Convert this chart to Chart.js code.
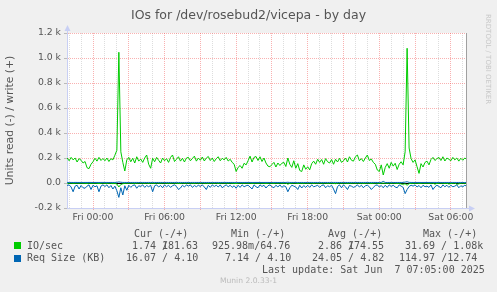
<!DOCTYPE html>
<html lang="en">
<head>
<meta charset="UTF-8">
<title>IOs for /dev/rosebud2/vicepa - by day</title>
<script src="https://cdn.jsdelivr.net/npm/chart.js"></script>
<style>
  body { margin: 0; background: #f0f0f0; }
  #wrap { position: relative; width: 497px; height: 292px; overflow: hidden; }
  canvas { position: absolute; left: 0; top: 0; }
  #title { position: absolute; left: 0; width: 497px; top: 7px; text-align: center; font: 12.5px/15px "DejaVu Sans", sans-serif; color: #555; }
  .mono { position: absolute; font-family: "DejaVu Sans Mono", monospace; font-size: 10px; line-height: 12px; color: #555; white-space: pre; }
  .sq { position: absolute; left: 14px; width: 7px; height: 7px; }
  #rrd { position: absolute; left: 484px; top: 14px; writing-mode: vertical-rl; font: 7px "DejaVu Sans", sans-serif; color: #c8c8c8; white-space: nowrap; }
  #munin { position: absolute; left: 0; width: 497px; top: 276px; text-align: center; font: 7.6px "DejaVu Sans", sans-serif; color: #bbb; }
</style>
</head>
<body>
<div id="wrap">
  <canvas id="chart" width="497" height="292"></canvas>
  <div id="title">IOs for /dev/rosebud2/vicepa - by day</div>
  <div id="rrd">RRDTOOL / TOBI OETIKER</div>

  <div class="mono" style="left:134px;top:227.5px">Cur (-/+)</div>
  <div class="mono" style="left:231px;top:227.5px">Min (-/+)</div>
  <div class="mono" style="left:328px;top:227.5px">Avg (-/+)</div>
  <div class="mono" style="left:423px;top:227.5px">Max (-/+)</div>

  <div class="sq" style="top:242px;background:#00cc00"></div>
  <div class="mono" style="left:27px;top:239.5px">IO/sec</div>
  <div class="mono" style="left:132px;top:239.5px">1.74 /</div>
  <div class="mono" style="left:162px;top:239.5px">181.63</div>
  <div class="mono" style="left:212px;top:239.5px">925.98m/64.76</div>
  <div class="mono" style="left:318px;top:239.5px">2.86 /</div>
  <div class="mono" style="left:348px;top:239.5px">174.55</div>
  <div class="mono" style="left:405px;top:239.5px">31.69 / 1.08k</div>

  <div class="sq" style="top:255px;background:#0066b3"></div>
  <div class="mono" style="left:27px;top:251.5px">Req Size (KB)</div>
  <div class="mono" style="left:126px;top:251.5px">16.07 / 4.10</div>
  <div class="mono" style="left:225px;top:251.5px">7.14 / 4.10</div>
  <div class="mono" style="left:312px;top:251.5px">24.05 / 4.82</div>
  <div class="mono" style="left:399px;top:251.5px">114.97 /12.74</div>

  <div class="mono" style="left:262px;top:263.5px">Last update: Sat Jun  7 07:05:00 2025</div>
  <div id="munin">Munin 2.0.33-1</div>
</div>

<script>
// samples every 10 minutes, first one Thu 21:50 (hours relative to Fri 00:00)
const START_HOUR = -13 / 6;
const STEP_HOUR = 1 / 6;

const tickHours = [0, 6, 12, 18, 24, 30];
const tickLabels = ['Fri 00:00', 'Fri 06:00', 'Fri 12:00', 'Fri 18:00', 'Sat 00:00', 'Sat 06:00'];

// IO/sec write (+)
const ioWrite = [200,
  178,205,185,200,168,195,   // -2
  182,160,172,122,115,150,   // -1
  170,198,175,205,180,196,   // 0
  178,200,172,195,185,222,   // 1
  262,1046,250,165,96,185,   // 2
  205,170,198,160,210,175,   // 3
  192,165,200,224,150,118,   // 4
  198,170,205,182,160,200,   // 5
  178,195,165,205,224,172,   // 6
  190,210,175,198,168,200,   // 7
  205,178,196,215,175,200,   // 8
  182,208,176,200,212,180,   // 9
  200,172,195,210,178,198,   // 10
  185,205,176,190,165,150,   // 11
  92,125,140,118,158,145,    // 12
  178,215,168,205,212,180,   // 13
  210,172,200,160,135,130,   // 14
  148,165,128,160,140,158,   // 15
  165,132,200,150,125,178,   // 16
  118,155,100,92,145,110,    // 17
  130,105,155,175,150,190,   // 18
  165,188,150,195,170,160,   // 19
  188,150,190,168,198,165,   // 20
  178,200,168,210,182,175,   // 21
  210,224,178,195,172,200,   // 22
  224,180,192,165,150,104,   // 23
  92,145,64,125,155,118,     // 24
  165,135,158,108,150,170,   // 25
  145,250,1078,280,195,165,  // 26
  185,130,77,155,128,165,    // 27
  175,145,188,205,180,195,   // 28
  205,180,210,176,200,190,   // 29
  178,205,185,200,175,198,   // 30
  182,200,190];

// IO/sec read (-)
const ioRead = [-2,
  -2,-1,-3,-2,-1,-2,
  -1,-2,-2,-3,-1,-2,
  -2,-1,-2,-4,-2,-1,
  -2,-3,-1,-2,-5,-3,
  -8,-31.7,-12,-6,-3,-2,
  -2,-1,-2,-3,-2,-1,
  -1,-2,-2,-1,-3,-2,
  -2,-3,-1,-2,-2,-1,
  -1,-2,-3,-2,-1,-2,
  -2,-4,-3,-1,-2,-2,
  -1,-2,-2,-3,-1,-2,
  -2,-1,-2,-2,-3,-1,
  -2,-2,-1,-3,-2,-1,
  -1,-2,-2,-1,-2,-3,
  -4,-2,-1,-2,-2,-1,
  -2,-1,-3,-2,-1,-2,
  -1,-2,-2,-3,-2,-1,
  -2,-3,-1,-2,-1,-2,
  -2,-1,-9,-3,-2,-1,
  -1,-4,-2,-2,-3,-1,
  -2,-1,-2,-3,-1,-2,
  -1,-2,-2,-1,-3,-2,
  -2,-3,-5,-2,-1,-2,
  -1,-2,-3,-2,-2,-1,
  -2,-1,-2,-2,-3,-2,
  -1,-2,-4,-2,-1,-2,
  -3,-2,-1,-2,-2,-1,
  -2,-1,-2,-3,-2,-8,
  -10,-6,-18,-5,-3,-2,
  -2,-1,-3,-2,-1,-2,
  -1,-2,-2,-1,-9,-3,
  -2,-1,-2,-3,-2,-8,
  -4,-2,-1,-10,-7,-2,
  -1,-2,-2];

// Req Size (KB) read (-)
const reqRead = [-20,
  -15,-32,-70,-25,-18,-48,
  -20,-38,-42,-25,-15,-52,
  -18,-30,-22,-70,-25,-15,
  -28,-15,-38,-20,-48,-25,
  -62,-115,-38,-96,-22,-58,
  -18,-35,-20,-15,-42,-22,
  -28,-15,-35,-20,-30,-18,
  -70,-22,-15,-32,-20,-38,
  -15,-30,-18,-35,-22,-15,
  -28,-52,-40,-18,-32,-15,
  -25,-15,-35,-20,-30,-18,
  -28,-15,-32,-52,-18,-35,
  -15,-28,-18,-32,-15,-38,
  -25,-15,-30,-18,-35,-22,
  -42,-18,-35,-15,-30,-22,
  -18,-32,-48,-15,-30,-38,
  -15,-28,-18,-40,-22,-15,
  -30,-38,-18,-32,-15,-35,
  -22,-30,-70,-38,-18,-25,
  -32,-52,-18,-40,-20,-35,
  -18,-35,-15,-30,-25,-18,
  -35,-20,-15,-38,-22,-30,
  -18,-48,-85,-28,-15,-38,
  -15,-30,-52,-20,-25,-35,
  -28,-15,-32,-18,-38,-22,
  -18,-30,-52,-35,-20,-15,
  -32,-20,-38,-18,-35,-15,
  -28,-18,-32,-38,-15,-25,
  -35,-85,-52,-28,-18,-25,
  -15,-32,-20,-38,-18,-30,
  -25,-35,-15,-52,-30,-18,
  -28,-38,-15,-30,-18,-35,
  -18,-30,-25,-15,-38,-22,
  -30,-18,-25];

// Req Size (KB) write (+)
const reqWrite = [4.4,
  4.3,4.5,4.2,4.6,4.4,4.3,
  4.5,4.2,4.4,4.3,4.6,4.4,
  4.2,4.4,4.5,4.3,4.4,4.6,
  4.3,4.5,4.2,4.4,4.3,4.5,
  5.2,8.5,6.1,4.6,4.4,4.3,
  4.4,4.2,4.5,4.3,4.4,4.2,
  4.3,4.5,4.4,4.2,4.6,4.3,
  4.4,4.3,4.2,4.5,4.4,4.3,
  4.2,4.4,4.3,4.5,4.2,4.4,
  4.5,4.3,4.4,4.2,4.3,4.5,
  4.3,4.2,4.4,4.5,4.3,4.4,
  4.4,4.5,4.3,4.2,4.4,4.3,
  4.2,4.3,4.5,4.4,4.2,4.4,
  4.5,4.4,4.2,4.3,4.5,4.2,
  4.6,4.3,4.4,4.2,4.3,4.5,
  4.3,4.4,4.2,4.5,4.4,4.3,
  4.4,4.2,4.3,4.4,4.5,4.2,
  4.3,4.5,4.4,4.2,4.3,4.4,
  4.2,4.4,5.8,4.3,4.4,4.5,
  4.5,4.3,4.2,4.4,4.2,4.3,
  4.3,4.4,4.5,4.2,4.4,4.3,
  4.4,4.2,4.3,4.5,4.3,4.4,
  4.2,4.5,4.4,4.3,4.2,4.4,
  4.3,4.4,4.2,4.4,4.5,4.3,
  4.5,4.3,4.4,4.2,4.3,4.4,
  4.4,4.2,4.3,4.5,4.4,4.2,
  4.3,4.5,12.74,4.3,4.2,4.4,
  4.4,4.3,4.2,4.4,4.5,4.3,
  4.6,7.2,9.8,5.1,4.4,4.3,
  4.3,4.4,4.5,4.2,4.3,4.4,
  4.2,4.4,4.3,4.5,4.6,4.3,
  4.4,4.3,4.2,4.4,4.3,4.5,
  4.3,4.5,4.4,4.2,4.4,4.3,
  4.1,4.1,4.1];

const X_MIN = -2.18, X_MAX = 31.27;
const Y_MIN = -200, Y_MAX = 1200;

const GREEN = '#00cc00', BLUE = '#0066b3';
const GRID_MINOR = 'rgba(150,150,150,0.32)';
const GRID_MAJOR = 'rgba(240,70,70,0.42)';
const AXIS = '#c8cff4';
const TEXT = '#555';

const toPoints = values => values.map((v, i) => ({ x: START_HOUR + i * STEP_HOUR, y: v }));

function series(values, color) {
  return { data: toPoints(values), borderColor: color, borderWidth: 1, pointRadius: 0, tension: 0, fill: false };
}

Chart.defaults.font.family = '"DejaVu Sans", sans-serif';
Chart.defaults.color = TEXT;

const muninFrame = {
  id: 'muninFrame',
  beforeDraw(chart) {
    const { ctx, chartArea: a } = chart;
    ctx.save();
    ctx.fillStyle = '#ffffff';
    ctx.fillRect(a.left, a.top, a.right - a.left, a.bottom - a.top);
    ctx.restore();
  },
  afterDraw(chart) {
    const { ctx, chartArea: a } = chart;
    ctx.save();
    ctx.strokeStyle = '#a0a0a0';
    ctx.lineWidth = 1;
    ctx.beginPath();
    ctx.moveTo(a.right + 0.5, a.top);
    ctx.lineTo(a.right + 0.5, a.bottom);
    ctx.stroke();

    ctx.strokeStyle = AXIS;
    ctx.beginPath();
    ctx.moveTo(a.left + 0.5, a.top);
    ctx.lineTo(a.left + 0.5, a.top - 4);
    ctx.moveTo(a.right, a.bottom + 0.5);
    ctx.lineTo(a.right + 4, a.bottom + 0.5);
    ctx.stroke();

    ctx.fillStyle = AXIS;
    ctx.beginPath();
    ctx.moveTo(a.left + 0.5, a.top - 8);
    ctx.lineTo(a.left - 2.5, a.top - 2);
    ctx.lineTo(a.left + 3.5, a.top - 2);
    ctx.closePath();
    ctx.fill();
    ctx.beginPath();
    ctx.moveTo(a.right + 9, a.bottom + 0.5);
    ctx.lineTo(a.right + 3, a.bottom - 2.5);
    ctx.lineTo(a.right + 3, a.bottom + 3.5);
    ctx.closePath();
    ctx.fill();
    ctx.restore();
  }
};

new Chart(document.getElementById('chart'), {
  type: 'line',
  data: {
    datasets: [
      series(reqWrite, BLUE),
      series(reqRead, BLUE),
      series(ioWrite, GREEN),
      series(ioRead, GREEN)
    ]
  },
  options: {
    responsive: false,
    animation: false,
    parsing: false,
    layout: { padding: { left: 0, right: 31, top: 33, bottom: 0 } },
    plugins: {
      legend: { display: false },
      tooltip: { enabled: false },
      title: { display: false }
    },
    scales: {
      x: {
        type: 'linear',
        min: X_MIN,
        max: X_MAX,
        afterFit: s => { s.height = 84; },
        ticks: {
          stepSize: 1,
          includeBounds: false,
          autoSkip: false,
          maxRotation: 0,
          padding: 2,
          color: TEXT,
          font: { size: 9.3 },
          callback: v => {
            const k = tickHours.indexOf(v);
            return k >= 0 ? tickLabels[k] : '';
          }
        },
        grid: {
          color: c => (c.tick && c.tick.value % 3 === 0) ? GRID_MAJOR : GRID_MINOR,
          tickColor: c => (c.tick && c.tick.value % 3 === 0) ? GRID_MAJOR : 'rgba(0,0,0,0)',
          tickLength: 2
        },
        border: { color: AXIS, dash: [1, 1] }
      },
      y: {
        min: Y_MIN,
        max: Y_MAX,
        afterFit: s => { s.width = 67; },
        ticks: {
          stepSize: 100,
          padding: 3,
          color: TEXT,
          font: { size: 9.3 },
          callback: v => {
            if (v % 200 !== 0) return '';
            return v === 0 ? '0.0' : (v / 1000).toFixed(1) + ' k';
          }
        },
        grid: {
          color: c => {
            if (!c.tick) return GRID_MINOR;
            if (c.tick.value === 0) return '#000000';
            return c.tick.value % 200 === 0 ? GRID_MAJOR : GRID_MINOR;
          },
          tickColor: 'rgba(150,150,150,0.6)',
          tickLength: 3
        },
        border: {
          color: AXIS,
          dash: c => (c.tick && c.tick.value === 0) ? [] : [1, 1]
        },
        title: {
          display: true,
          text: 'Units read (-) / write (+)',
          color: TEXT,
          font: { size: 10.8 },
          padding: { top: 3.5, bottom: 0 }
        }
      }
    }
  },
  plugins: [muninFrame]
});
</script>
</body>
</html>
